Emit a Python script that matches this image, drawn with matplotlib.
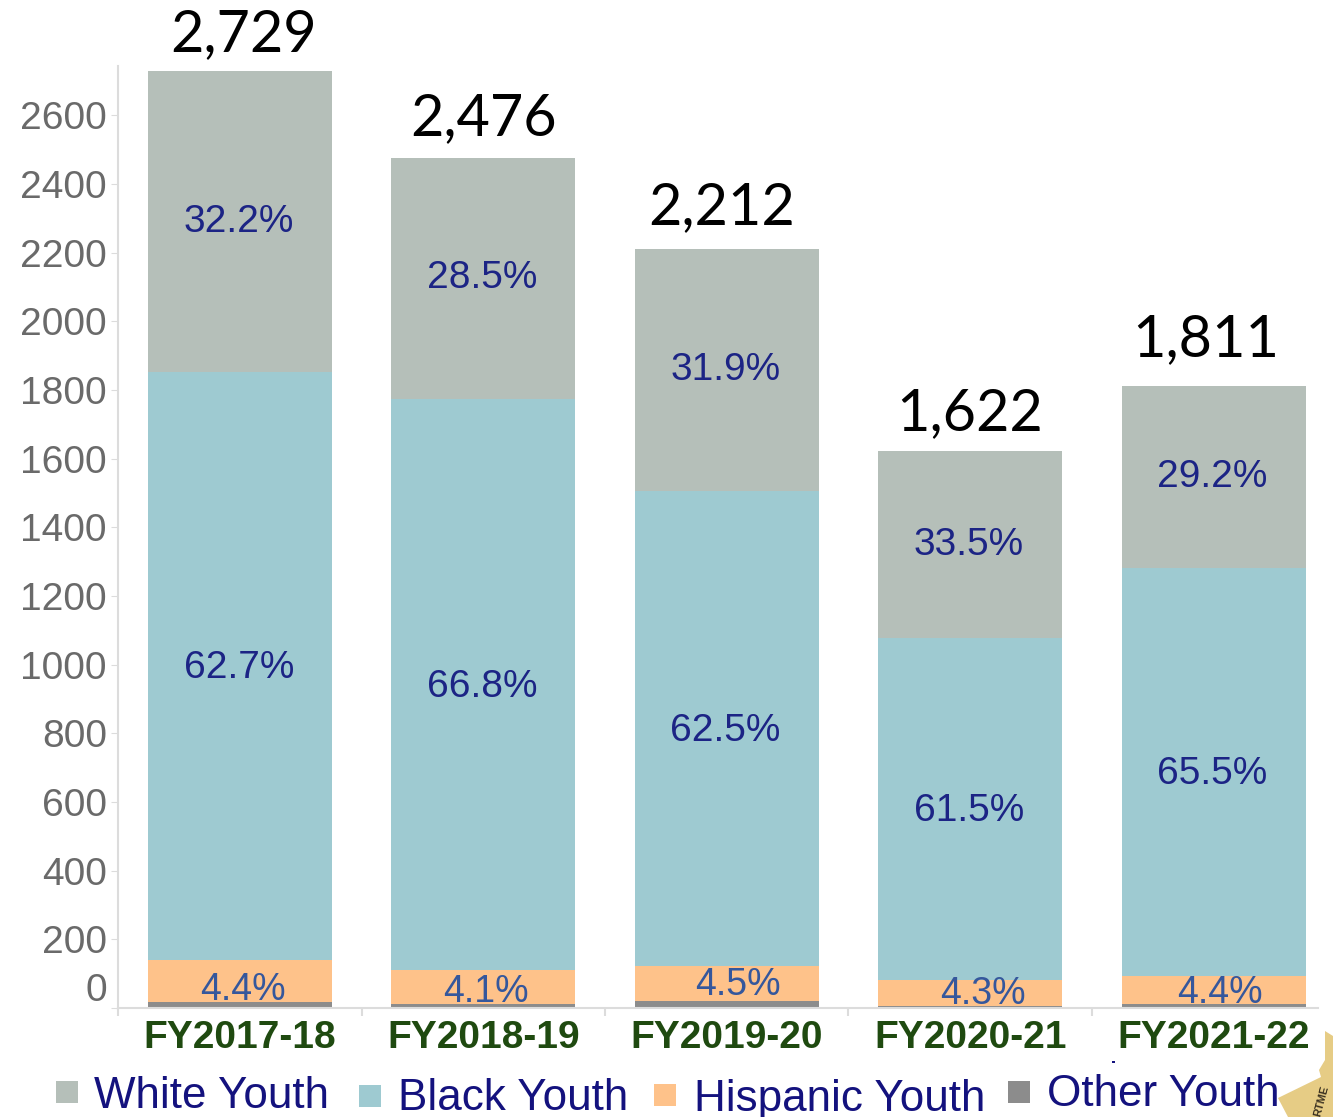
import matplotlib
matplotlib.use("Agg")
import matplotlib.pyplot as plt
from matplotlib.patches import Rectangle, Polygon
from matplotlib.transforms import ScaledTranslation

years = ["FY2017-18", "FY2018-19", "FY2019-20", "FY2020-21", "FY2021-22"]
other = [17, 12, 20, 6, 12]
hispanic = [123, 98, 102, 76, 81]
black = [1712, 1664, 1384, 996, 1189]
white = [877, 702, 706, 544, 529]
totals = ["2,729", "2,476", "2,212", "1,622", "1,811"]
pct_white = ["32.2%", "28.5%", "31.9%", "33.5%", "29.2%"]
pct_black = ["62.7%", "66.8%", "62.5%", "61.5%", "65.5%"]
pct_hisp = ["4.4%", "4.1%", "4.5%", "4.3%", "4.4%"]
yticks = list(range(0, 2601, 200))

# label nudges in pixels, as the labels sit unevenly in the reference
total_dx = [4, 0, -5, -1, -8]
total_dy = [10, 13, 15, 11, 20]
hisp_dx = [3, 3, 11, 13, 6]
hisp_dy = [-6, -6, -2, -6, -7]

W, H = 1333, 1117
C_W, C_B, C_H, C_O = "#b5bfb9", "#9ecad1", "#fec28a", "#8c8c8c"
NAVY, BLUE = "#1c2485", "#35579c"
SANS = "Liberation Sans"

fig = plt.figure(figsize=(W / 100, H / 100), dpi=100, facecolor="white")
ax = fig.add_axes([118 / W, 1 - 1008 / H, 1200 / W, 942 / H])

x = range(len(years))
bw = 0.756
b1 = other
b2 = [a + b for a, b in zip(b1, hispanic)]
b3 = [a + b for a, b in zip(b2, black)]
ax.bar(x, other, bw, color=C_O)
ax.bar(x, hispanic, bw, bottom=b1, color=C_H)
ax.bar(x, black, bw, bottom=b2, color=C_B)
ax.bar(x, white, bw, bottom=b3, color=C_W)

for s in ("top", "right"):
    ax.spines[s].set_visible(False)
for s in ("left", "bottom"):
    ax.spines[s].set_color("#dcdcdc")
    ax.spines[s].set_linewidth(1.5)

ax.set_yticks(yticks)
ax.set_yticklabels([str(v) for v in yticks], fontsize=28, color="#6a6a6a", family=SANS)
ax.tick_params(axis="y", length=5, color="#dcdcdc", pad=3)
zero = ax.get_yticklabels()[0]
zero.set_transform(zero.get_transform() + ScaledTranslation(0, 21 / 100, fig.dpi_scale_trans))

ax.set_xticks(list(x))
ax.set_xticklabels(years, fontsize=28, fontweight="bold", color="#1f4a10", family=SANS)
ax.set_xticks([i - 0.5 for i in range(5)], minor=True)
ax.tick_params(axis="x", which="major", length=0, pad=9)
ax.tick_params(axis="x", which="minor", length=6, color="#dcdcdc", width=1.5)

ax.set_xlim(-0.5012, 4.429)
ax.set_ylim(0, 2744)

for i in x:
    ax.text(i - 0.005, b3[i] + white[i] * 0.5, pct_white[i], ha="center", va="center",
            fontsize=28, color=NAVY, family=SANS)
    ax.text(i - 0.005, b2[i] + black[i] * 0.5 - 6, pct_black[i], ha="center", va="center",
            fontsize=28, color=NAVY, family=SANS)
    ax.annotate(pct_hisp[i], (i, b1[i]), xytext=(hisp_dx[i], hisp_dy[i]),
                textcoords="offset pixels", ha="center", va="bottom",
                fontsize=27, color=BLUE, family=SANS)
    ax.annotate(totals[i], (i, b3[i] + white[i]), xytext=(total_dx[i], total_dy[i]),
                textcoords="offset pixels", ha="center", va="bottom", fontsize=41.5,
                color="black", family="Lato", annotation_clip=False)

legend = [("White Youth", C_W, 56, 1092, 94, 1096),
          ("Black Youth", C_B, 359, 1096, 398, 1099),
          ("Hispanic Youth", C_H, 654, 1095, 694, 1099),
          ("Other Youth", C_O, 1008, 1092, 1047, 1095)]
for label, col, mx, my, tx, ty in legend:
    fig.add_artist(Rectangle((mx / W, 1 - (my + 11) / H), 22 / W, 22 / H,
                             transform=fig.transFigure, facecolor=col, edgecolor="none"))
    fig.text(tx / W, 1 - ty / H, label, fontsize=31.7, color="#14127e", family=SANS,
             ha="left", va="center")

badge = [(1325, 1031), (1325, 1060), (1319, 1070), (1321, 1077), (1278, 1098),
         (1288, 1117), (1333, 1117), (1333, 1036)]
fig.add_artist(Polygon([(px / W, 1 - py / H) for px, py in badge], closed=True,
                       transform=fig.transFigure, facecolor="#e6cc85", edgecolor="none", zorder=5))
fig.text(1321 / W, 1 - 1101 / H, "RTME", fontsize=8, color="#3a3020", rotation=75,
         ha="center", va="center", family=SANS, fontweight="bold", zorder=6)
fig.add_artist(Rectangle((1112 / W, 1 - 1063 / H), 3 / W, 2 / H, transform=fig.transFigure,
                         facecolor="#14127e", edgecolor="none"))

fig.savefig("out.png", dpi=100)
